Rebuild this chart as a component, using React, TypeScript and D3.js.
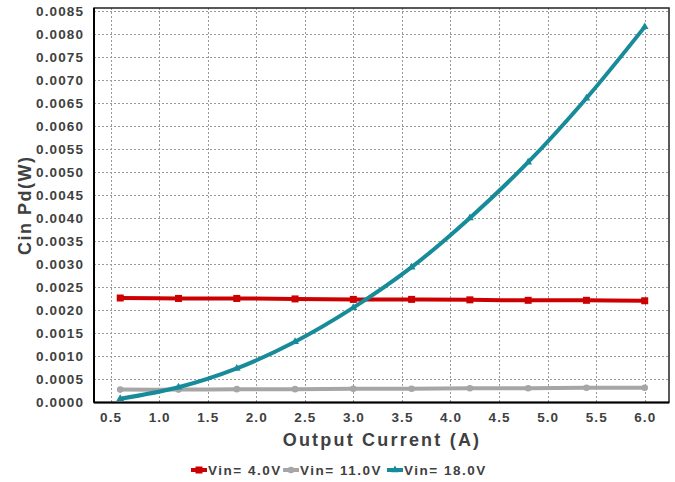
import React, { useRef, useEffect } from "react";
import * as d3 from "d3";

const current = [0.6, 1.2, 1.8, 2.4, 3.0, 3.6, 4.2, 4.8, 5.4, 6.0];
const vin4 = [0.00227, 0.00226, 0.00226, 0.00225, 0.00224, 0.00224, 0.00223, 0.00222, 0.00222, 0.00221];
const vin11 = [0.00028, 0.00028, 0.00029, 0.00029, 0.0003, 0.0003, 0.00031, 0.00031, 0.00032, 0.00032];
const vin18 = [0.00008, 0.00033, 0.00074, 0.00132, 0.00206, 0.00294, 0.00401, 0.00522, 0.00661, 0.00816];
const xTicks = [0.5, 1.0, 1.5, 2.0, 2.5, 3.0, 3.5, 4.0, 4.5, 5.0, 5.5, 6.0];
const yTicks = d3.range(0, 18).map((i) => i * 0.0005);
const seriesNames = ["Vin= 4.0V", "Vin= 11.0V", "Vin= 18.0V"];
const seriesColors = ["#cc0000", "#a6a6a6", "#178b99"];

export default function App() {
  const svgRef = useRef<SVGSVGElement>(null);

  useEffect(() => {
    const svg = d3.select(svgRef.current);
    svg.selectAll("*").remove();

    const width = 675;
    const height = 482;
    const left = 94;
    const right = 669;
    const top = 8;
    const bottom = 402.5;
    const textColor = "#404040";
    const font = "Arial, 'Liberation Sans', sans-serif";

    svg.attr("width", width).attr("height", height);

    // scales
    const x = d3.scaleLinear().domain([0.33, 6.25]).range([left, right]);
    const y = d3.scaleLinear().domain([0, 0.00857]).range([bottom, top]);

    // grid
    const grid = svg.append("g");
    grid
      .selectAll("line.h")
      .data(yTicks.slice(1))
      .join("line")
      .attr("x1", left)
      .attr("x2", right)
      .attr("y1", (d) => Math.round(y(d)) + 0.5)
      .attr("y2", (d) => Math.round(y(d)) + 0.5)
      .attr("stroke", "#9a9a9a")
      .attr("stroke-width", 1)
      .attr("stroke-dasharray", "2,2");
    grid
      .selectAll("line.v")
      .data(xTicks)
      .join("line")
      .attr("x1", (d) => Math.round(x(d)) + 0.5)
      .attr("x2", (d) => Math.round(x(d)) + 0.5)
      .attr("y1", top)
      .attr("y2", bottom)
      .attr("stroke", "#9a9a9a")
      .attr("stroke-width", 1)
      .attr("stroke-dasharray", "2,2");

    // frame
    svg
      .append("rect")
      .attr("x", left)
      .attr("y", top)
      .attr("width", right - left)
      .attr("height", bottom - top)
      .attr("fill", "none")
      .attr("stroke", "#222")
      .attr("stroke-width", 1.5);
    svg
      .append("line")
      .attr("x1", left)
      .attr("x2", left)
      .attr("y1", top)
      .attr("y2", bottom)
      .attr("stroke", "#000")
      .attr("stroke-width", 2);
    svg
      .append("line")
      .attr("x1", left)
      .attr("x2", right)
      .attr("y1", bottom)
      .attr("y2", bottom)
      .attr("stroke", "#000")
      .attr("stroke-width", 2);

    // tick labels
    svg
      .selectAll("text.ytick")
      .data(yTicks)
      .join("text")
      .attr("x", 84)
      .attr("y", (d) => y(d))
      .attr("dy", "0.35em")
      .attr("text-anchor", "end")
      .attr("font-family", font)
      .attr("font-weight", "bold")
      .attr("font-size", 13.5)
      .attr("letter-spacing", 1.1)
      .attr("fill", textColor)
      .text((d) => d.toFixed(4));

    svg
      .selectAll("text.xtick")
      .data(xTicks)
      .join("text")
      .attr("x", (d) => x(d) + 0.6)
      .attr("y", 417)
      .attr("dy", "0.35em")
      .attr("text-anchor", "middle")
      .attr("font-family", font)
      .attr("font-weight", "bold")
      .attr("font-size", 13.5)
      .attr("letter-spacing", 1.1)
      .attr("fill", textColor)
      .text((d) => d.toFixed(1));

    // axis titles
    svg
      .append("text")
      .attr("x", (left + right) / 2 + 0.5)
      .attr("y", 440)
      .attr("dy", "0.35em")
      .attr("text-anchor", "middle")
      .attr("font-family", font)
      .attr("font-weight", "bold")
      .attr("font-size", 18)
      .attr("letter-spacing", 2.2)
      .attr("fill", textColor)
      .text("Output Current (A)");

    svg
      .append("text")
      .attr("transform", `translate(25,${(top + bottom) / 2}) rotate(-90)`)
      .attr("dy", "0.35em")
      .attr("text-anchor", "middle")
      .attr("font-family", font)
      .attr("font-weight", "bold")
      .attr("font-size", 18)
      .attr("letter-spacing", 1.5)
      .attr("fill", textColor)
      .text("Cin Pd(W)");

    const line = d3
      .line<number>()
      .curve(d3.curveCatmullRom.alpha(0.5))
      .x((d, i) => x(current[i]))
      .y((d) => y(d));

    const drawMarker = (g, idx, cx, cy) => {
      const c = seriesColors[idx];
      if (idx === 0) {
        g.append("rect")
          .attr("x", cx - 3.5)
          .attr("y", cy - 3.5)
          .attr("width", 7)
          .attr("height", 7)
          .attr("fill", c);
      } else if (idx === 1) {
        g.append("circle").attr("cx", cx).attr("cy", cy).attr("r", 3.3).attr("fill", c);
      } else {
        g.append("path")
          .attr("d", d3.symbol(d3.symbolTriangle, 26)())
          .attr("transform", `translate(${cx},${cy})`)
          .attr("fill", c);
      }
    };

    const plot = svg.append("g");
    [vin4, vin11, vin18].forEach((vals, idx) => {
      plot
        .append("path")
        .datum(vals)
        .attr("fill", "none")
        .attr("stroke", seriesColors[idx])
        .attr("stroke-width", 4)
        .attr("stroke-linejoin", "round")
        .attr("d", line);
      vals.forEach((v, i) => drawMarker(plot, idx, x(current[i]), y(v)));
    });

    // legend
    const legendX = [191, 283, 387];
    const legend = svg.append("g");
    seriesNames.forEach((name, idx) => {
      const lx = legendX[idx];
      const ly = 470;
      legend
        .append("line")
        .attr("x1", lx)
        .attr("x2", lx + 16)
        .attr("y1", ly)
        .attr("y2", ly)
        .attr("stroke", seriesColors[idx])
        .attr("stroke-width", 4);
      drawMarker(legend, idx, lx + 8, ly);
      legend
        .append("text")
        .attr("x", lx + 17)
        .attr("y", ly)
        .attr("dy", "0.35em")
        .attr("font-family", font)
        .attr("font-weight", "bold")
        .attr("font-size", 13.5)
        .attr("letter-spacing", 1.5)
        .attr("fill", textColor)
        .text(name);
    });
  }, []);

  return (
    <svg
      ref={svgRef}
      style={{ position: "absolute", left: 0, top: 0, background: "#fff" }}
    ></svg>
  );
}
